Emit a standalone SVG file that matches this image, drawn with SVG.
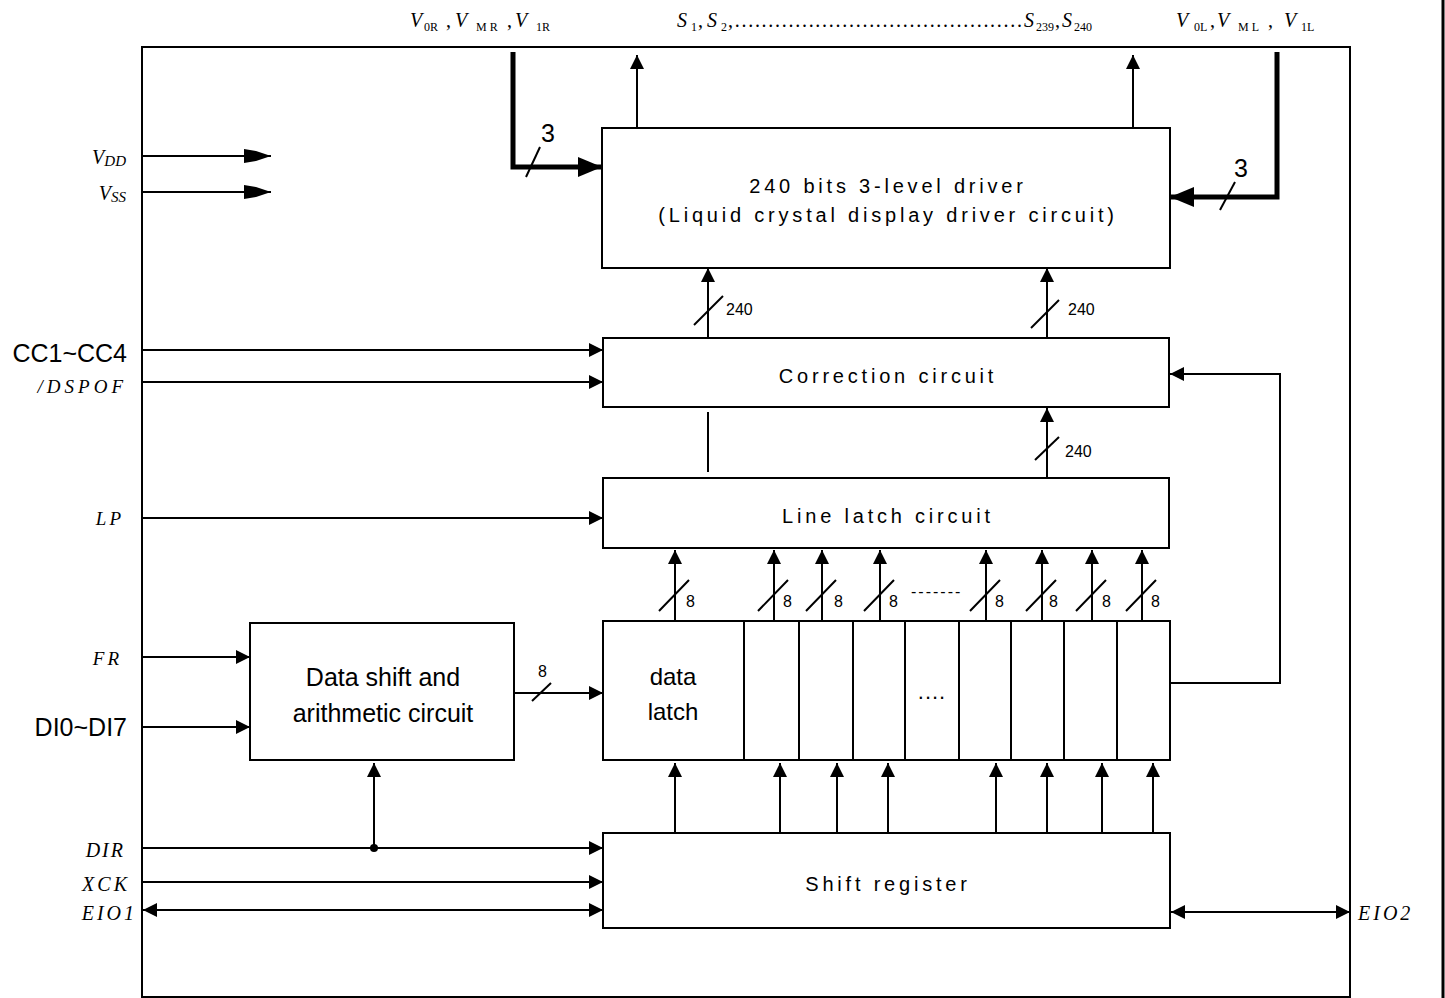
<svg xmlns="http://www.w3.org/2000/svg" width="1445" height="998" viewBox="0 0 1445 998">
<style>
.box{fill:#fff;stroke:#000;stroke-width:2}
.ln{stroke:#000;stroke-width:2;fill:none}
.thick{stroke:#000;stroke-width:5;fill:none}
.sl{stroke:#000;stroke-width:2}
.sans{font-family:"Liberation Sans",Arial,sans-serif;fill:#000}
.sp{letter-spacing:3.8px;font-size:20px}
.ser{font-family:"Liberation Serif","Times New Roman",serif;fill:#000}
.it{font-style:italic}
.sub{font-size:12px;font-style:normal}
.num{font-size:16px}
</style>
<defs>
<marker id="ah" viewBox="0 0 14 14" refX="14" refY="7" markerWidth="14" markerHeight="14" markerUnits="userSpaceOnUse" orient="auto-start-reverse"><path d="M0,0 L14,7 L0,14 Z"/></marker>
<marker id="ahL" viewBox="0 0 27 14" refX="27" refY="7" markerWidth="27" markerHeight="14" markerUnits="userSpaceOnUse" orient="auto"><path d="M0,0 L12,2 L27,7 L12,12 L0,14 Z"/></marker>
<marker id="ahT" viewBox="0 0 24 20" refX="24" refY="10" markerWidth="24" markerHeight="20" markerUnits="userSpaceOnUse" orient="auto"><path d="M0,0 L24,10 L0,20 Z"/></marker>
</defs>

<g id="frame">
<rect x="142" y="47" width="1208" height="950" fill="none" stroke="#000" stroke-width="2"/>
<line x1="1443" y1="0" x2="1443" y2="998" stroke="#000" stroke-width="3"/>
</g>

<g id="top-labels">
<text class="ser it" font-size="20" x="410" y="27">V</text>
<text class="ser sub" x="424" y="31">0R</text>
<text class="ser" font-size="20" x="446" y="27">,</text>
<text class="ser it" font-size="20" x="455" y="27">V</text>
<text class="ser sub" x="476" y="31" letter-spacing="3">MR</text>
<text class="ser" font-size="20" x="507" y="27">,</text>
<text class="ser it" font-size="20" x="515" y="27">V</text>
<text class="ser sub" x="536" y="31">1R</text>

<text class="ser it" font-size="20" x="677" y="27">S</text>
<text class="ser sub" x="691" y="31">1</text>
<text class="ser" font-size="20" x="698" y="27">,</text>
<text class="ser it" font-size="20" x="707" y="27">S</text>
<text class="ser sub" x="721" y="31">2</text>
<text class="ser" font-size="20" x="728" y="27" textLength="294" lengthAdjust="spacing">,...........................................</text>
<text class="ser it" font-size="20" x="1024" y="27">S</text>
<text class="ser sub" x="1036" y="31">239</text>
<text class="ser" font-size="20" x="1055" y="27">,</text>
<text class="ser it" font-size="20" x="1062" y="27">S</text>
<text class="ser sub" x="1074" y="31">240</text>

<text class="ser it" font-size="20" x="1176" y="27">V</text>
<text class="ser sub" x="1194" y="31">0L</text>
<text class="ser" font-size="20" x="1210" y="27">,</text>
<text class="ser it" font-size="20" x="1217" y="27">V</text>
<text class="ser sub" x="1238" y="31" letter-spacing="3">ML</text>
<text class="ser" font-size="20" x="1268" y="27">,</text>
<text class="ser it" font-size="20" x="1284" y="27">V</text>
<text class="ser sub" x="1301" y="31">1L</text>
</g>

<g id="left-labels">
<text class="ser it" font-size="20" x="126" y="164" text-anchor="end">V<tspan font-size="15" dy="2">DD</tspan></text>
<text class="ser it" font-size="20" x="126" y="200" text-anchor="end">V<tspan font-size="15" dy="2">SS</tspan></text>
<text class="sans" font-size="25" x="127" y="362" text-anchor="end">CC1~CC4</text>
<text class="ser it" font-size="19" x="127" y="393" text-anchor="end" letter-spacing="4">/DSPOF</text>
<text class="ser it" font-size="19" x="124" y="525" text-anchor="end" letter-spacing="3">LP</text>
<text class="ser it" font-size="19" x="122" y="665" text-anchor="end" letter-spacing="3">FR</text>
<text class="sans" font-size="25" x="127" y="736" text-anchor="end">DI0~DI7</text>
<text class="ser it" font-size="20" x="125" y="857" text-anchor="end" letter-spacing="2">DIR</text>
<text class="ser it" font-size="20" x="130" y="891" text-anchor="end" letter-spacing="3">XCK</text>
<text class="ser it" font-size="20" x="137" y="920" text-anchor="end" letter-spacing="3">EIO1</text>
<text class="ser it" font-size="20" x="1358" y="920" letter-spacing="3">EIO2</text>
</g>

<g id="driver">
<rect class="box" x="602" y="128" width="568" height="140"/>
<text class="sans sp" x="888" y="193" text-anchor="middle">240 bits 3-level driver</text>
<text class="sans sp" x="888" y="222" text-anchor="middle">(Liquid crystal display driver circuit)</text>
</g>

<g id="correction">
<rect class="box" x="603" y="338" width="566" height="69"/>
<text class="sans sp" x="888" y="383" text-anchor="middle">Correction circuit</text>
</g>

<g id="line-latch">
<rect class="box" x="603" y="478" width="566" height="70"/>
<text class="sans sp" x="888" y="523" text-anchor="middle">Line latch circuit</text>
</g>

<g id="data-latch">
<rect class="box" x="603" y="621" width="567" height="139"/>
<path class="ln" d="M744,621V760M799,621V760M853,621V760M905,621V760M959,621V760M1011,621V760M1064,621V760M1117,621V760"/>
<text class="sans" font-size="24" x="673" y="685" text-anchor="middle">data</text>
<text class="sans" font-size="24" x="673" y="720" text-anchor="middle">latch</text>
<text class="sans" font-size="22" x="932" y="699" text-anchor="middle" letter-spacing="1">....</text>
</g>

<g id="data-shift">
<rect class="box" x="250" y="623" width="264" height="137"/>
<text class="sans" font-size="25" x="383" y="686" text-anchor="middle">Data shift and</text>
<text class="sans" font-size="25" x="383" y="722" text-anchor="middle">arithmetic circuit</text>
</g>

<g id="shift-register">
<rect class="box" x="603" y="833" width="567" height="95"/>
<text class="sans sp" x="888" y="891" text-anchor="middle">Shift register</text>
</g>

<g id="connectors">
<line class="ln" x1="637" y1="128" x2="637" y2="55" marker-end="url(#ah)"/>
<line class="ln" x1="1133" y1="128" x2="1133" y2="55" marker-end="url(#ah)"/>
<path class="thick" d="M513,52V167H602" marker-end="url(#ahT)"/>
<path class="thick" d="M1277,52V197H1170" marker-end="url(#ahT)"/>
<line class="sl" x1="526" y1="177" x2="540" y2="147"/>
<text class="sans" font-size="25" x="541" y="142">3</text>
<line class="sl" x1="1220" y1="210" x2="1235" y2="182"/>
<text class="sans" font-size="25" x="1234" y="177">3</text>

<line class="ln" x1="142" y1="156" x2="271" y2="156" marker-end="url(#ahL)"/>
<line class="ln" x1="142" y1="192" x2="271" y2="192" marker-end="url(#ahL)"/>

<line class="ln" x1="708" y1="338" x2="708" y2="268" marker-end="url(#ah)"/>
<line class="ln" x1="1047" y1="338" x2="1047" y2="268" marker-end="url(#ah)"/>
<line class="sl" x1="694" y1="325" x2="723" y2="296"/>
<text class="sans num" x="726" y="315">240</text>
<line class="sl" x1="1031" y1="328" x2="1059" y2="300"/>
<text class="sans num" x="1068" y="315">240</text>

<line class="ln" x1="142" y1="350" x2="603" y2="350" marker-end="url(#ah)"/>
<line class="ln" x1="142" y1="382" x2="603" y2="382" marker-end="url(#ah)"/>
<path class="ln" d="M1170,683H1280V374H1170" marker-end="url(#ah)"/>

<line class="ln" x1="708" y1="412" x2="708" y2="472"/>
<line class="ln" x1="1047" y1="478" x2="1047" y2="408" marker-end="url(#ah)"/>
<line class="sl" x1="1035" y1="460" x2="1059" y2="437"/>
<text class="sans num" x="1065" y="457">240</text>

<line class="ln" x1="142" y1="518" x2="603" y2="518" marker-end="url(#ah)"/>

<line class="ln" x1="675" y1="621" x2="675" y2="550" marker-end="url(#ah)"/>
<line class="ln" x1="774" y1="621" x2="774" y2="550" marker-end="url(#ah)"/>
<line class="ln" x1="822" y1="621" x2="822" y2="550" marker-end="url(#ah)"/>
<line class="ln" x1="880" y1="621" x2="880" y2="550" marker-end="url(#ah)"/>
<line class="ln" x1="986" y1="621" x2="986" y2="550" marker-end="url(#ah)"/>
<line class="ln" x1="1042" y1="621" x2="1042" y2="550" marker-end="url(#ah)"/>
<line class="ln" x1="1092" y1="621" x2="1092" y2="550" marker-end="url(#ah)"/>
<line class="ln" x1="1142" y1="621" x2="1142" y2="550" marker-end="url(#ah)"/>
<path class="ln" d="M659,611L689,580M758,611L788,580M806,611L836,580M864,611L894,580M970,611L1000,580M1026,611L1056,580M1076,611L1106,580M1126,611L1156,580"/>
<text class="sans num" x="686" y="607">8</text>
<text class="sans num" x="783" y="607">8</text>
<text class="sans num" x="834" y="607">8</text>
<text class="sans num" x="889" y="607">8</text>
<text class="sans num" x="995" y="607">8</text>
<text class="sans num" x="1049" y="607">8</text>
<text class="sans num" x="1102" y="607">8</text>
<text class="sans num" x="1151" y="607">8</text>
<text class="sans num" x="911" y="597" letter-spacing="2">-------</text>

<line class="ln" x1="142" y1="657" x2="250" y2="657" marker-end="url(#ah)"/>
<line class="ln" x1="142" y1="727" x2="250" y2="727" marker-end="url(#ah)"/>
<line class="ln" x1="514" y1="693" x2="603" y2="693" marker-end="url(#ah)"/>
<line class="sl" x1="532" y1="701" x2="551" y2="683"/>
<text class="sans num" x="538" y="677">8</text>

<line class="ln" x1="675" y1="833" x2="675" y2="763" marker-end="url(#ah)"/>
<line class="ln" x1="780" y1="833" x2="780" y2="763" marker-end="url(#ah)"/>
<line class="ln" x1="837" y1="833" x2="837" y2="763" marker-end="url(#ah)"/>
<line class="ln" x1="888" y1="833" x2="888" y2="763" marker-end="url(#ah)"/>
<line class="ln" x1="996" y1="833" x2="996" y2="763" marker-end="url(#ah)"/>
<line class="ln" x1="1047" y1="833" x2="1047" y2="763" marker-end="url(#ah)"/>
<line class="ln" x1="1102" y1="833" x2="1102" y2="763" marker-end="url(#ah)"/>
<line class="ln" x1="1153" y1="833" x2="1153" y2="763" marker-end="url(#ah)"/>

<line class="ln" x1="142" y1="848" x2="603" y2="848" marker-end="url(#ah)"/>
<circle cx="374" cy="848" r="4"/>
<line class="ln" x1="374" y1="848" x2="374" y2="763" marker-end="url(#ah)"/>
<line class="ln" x1="142" y1="882" x2="603" y2="882" marker-end="url(#ah)"/>
<line class="ln" x1="143" y1="910" x2="603" y2="910" marker-start="url(#ah)" marker-end="url(#ah)"/>
<line class="ln" x1="1171" y1="912" x2="1350" y2="912" marker-start="url(#ah)" marker-end="url(#ah)"/>
</g>
</svg>
